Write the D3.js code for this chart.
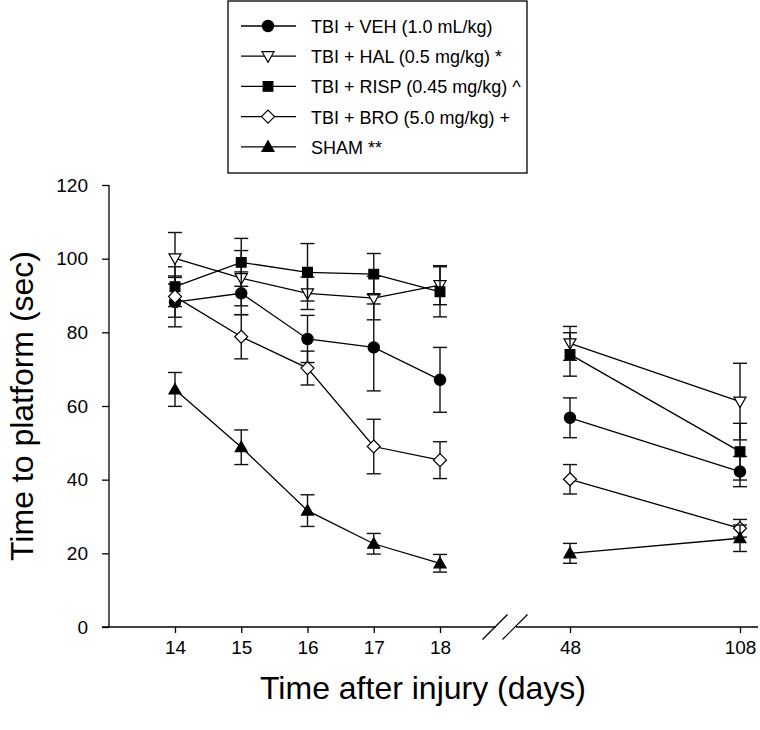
<!DOCTYPE html>
<html><head><meta charset="utf-8">
<script src="https://cdn.jsdelivr.net/npm/d3@7"></script>
<style>
html,body{margin:0;padding:0;background:#fff;}
svg{display:block;font-family:"Liberation Sans",Arial,Helvetica,sans-serif;}
</style></head>
<body>
<svg id="chart" width="760" height="730"></svg>
<script>
const days = [14, 15, 16, 17, 18, 48, 108];
const yTicks = [0, 20, 40, 60, 80, 100, 120];
const seriesNames = ["TBI + VEH (1.0 mL/kg)", "TBI + HAL (0.5 mg/kg) *", "TBI + RISP (0.45 mg/kg) ^", "TBI + BRO (5.0 mg/kg) +", "SHAM **"];
const vehVals  = [88.2, 90.6, 78.2, 75.9, 67.1, 56.8, 42.2];
const vehErr   = [6.7, 5.8, 6.4, 11.8, 8.8, 5.4, 4.1];
const halVals  = [100.1, 94.7, 90.6, 89.3, 92.8, 77.0, 61.2];
const halErr   = [7.0, 7.5, 4.4, 5.9, 5.3, 4.6, 10.4];
const rispVals = [92.4, 99.0, 96.3, 95.8, 91.0, 74.0, 47.6];
const rispErr  = [5.4, 6.5, 7.8, 5.6, 6.8, 5.9, 7.7];
const broVals  = [89.7, 78.8, 70.3, 49.0, 45.3, 40.1, 26.8];
const broErr   = [5.6, 6.0, 4.6, 7.4, 5.0, 4.0, 2.4];
const shamVals = [64.5, 48.8, 31.6, 22.6, 17.3, 20.0, 24.1];
const shamErr  = [4.6, 4.7, 4.3, 2.8, 2.4, 2.7, 3.6];
const segments = [[14, 15, 16, 17, 18], [48, 108]];
const markers = ["circle", "triangleDown", "square", "diamond", "triangleUp"];
const fills = ["#000", "#fff", "#000", "#fff", "#000"];

const allVals = [vehVals, halVals, rispVals, broVals, shamVals];
const allErr = [vehErr, halErr, rispErr, broErr, shamErr];

const svg = d3.select("#chart");
const x = d3.scaleLinear().domain([14, 18, 48, 108]).range([175, 440, 570, 740]);
const y = d3.scaleLinear().domain([0, 120]).range([627, 185]);
const xLeft = 109, xRight = 758;
const breakX = (x(18) + x(48)) / 2;
const FONT = "Liberation Sans, Arial, sans-serif";

// y axis
const yAxis = svg.append("g").attr("transform", `translate(${xLeft},0)`)
  .call(d3.axisLeft(y).tickValues(yTicks).tickSize(7).tickPadding(14));
yAxis.select(".domain").remove();
yAxis.append("line").attr("x1", 0).attr("x2", 0).attr("y1", y(0)).attr("y2", y(120)).attr("stroke", "#000").attr("stroke-width", 1.3);
yAxis.selectAll(".tick line").attr("stroke-width", 1.3);
yAxis.selectAll("text").attr("font-size", 19).attr("fill", "#000").attr("font-family", FONT);

// x axis
const xAxis = svg.append("g").attr("transform", `translate(0,${y(0)})`)
  .call(d3.axisBottom(x).tickValues(days).tickFormat(d3.format("d")).tickSize(6).tickPadding(8));
xAxis.select(".domain").remove();
xAxis.selectAll(".tick line").attr("stroke-width", 1.3);
xAxis.selectAll("text").attr("font-size", 19).attr("fill", "#000").attr("font-family", FONT);
xAxis.append("line").attr("x1", xLeft - 7).attr("x2", breakX - 9).attr("y1", 0).attr("y2", 0).attr("stroke", "#000").attr("stroke-width", 1.3);
xAxis.append("line").attr("x1", breakX + 11).attr("x2", xRight).attr("y1", 0).attr("y2", 0).attr("stroke", "#000").attr("stroke-width", 1.3);
[-10, 10].forEach(off => {
  xAxis.append("line")
    .attr("x1", breakX + off - 12.5).attr("y1", 12.5)
    .attr("x2", breakX + off + 12.5).attr("y2", -12.5)
    .attr("stroke", "#000").attr("stroke-width", 1.2);
});

// axis titles
svg.append("text").attr("x", 423).attr("y", 699).attr("text-anchor", "middle")
  .attr("font-size", 32).text("Time after injury (days)");
svg.append("text").attr("transform", `translate(33,${(y(0) + y(120)) / 2}) rotate(-90)`)
  .attr("text-anchor", "middle").attr("font-size", 32).text("Time to platform (sec)");

function markerPath(type) {
  if (type === "triangleDown") return "M-6,-4.5L6,-4.5L0,6Z";
  if (type === "diamond") return "M0,-6.5L6.5,0L0,6.5L-6.5,0Z";
  if (type === "triangleUp") return "M0,-6L6,4.5L-6,4.5Z";
  if (type === "square") return d3.symbol(d3.symbolSquare, 95)();
  return d3.symbol(d3.symbolCircle, 100)();
}

const plot = svg.append("g");
allVals.forEach((vals, si) => {
  const errs = allErr[si];
  const pts = days.map((d, i) => ({ d, v: vals[i], e: errs[i] }));
  const g = plot.append("g");
  pts.forEach(p => {
    g.append("line").attr("x1", x(p.d)).attr("x2", x(p.d)).attr("y1", y(p.v - p.e)).attr("y2", y(p.v + p.e))
      .attr("stroke", "#111").attr("stroke-width", 1.4);
    [p.v - p.e, p.v + p.e].forEach(v => {
      g.append("line").attr("x1", x(p.d) - 7).attr("x2", x(p.d) + 7).attr("y1", y(v)).attr("y2", y(v))
        .attr("stroke", "#111").attr("stroke-width", 1.4);
    });
  });
  const line = d3.line().x(p => x(p.d)).y(p => y(p.v));
  segments.forEach(seg => {
    g.append("path").datum(pts.filter(p => seg.includes(p.d))).attr("d", line)
      .attr("fill", "none").attr("stroke", "#000").attr("stroke-width", 1.3);
  });
  g.selectAll(".m").data(pts).enter().append("path")
    .attr("transform", p => `translate(${x(p.d)},${y(p.v)})`)
    .attr("d", markerPath(markers[si]))
    .attr("fill", fills[si]).attr("stroke", "#000").attr("stroke-width", 1.2);
});

// legend
const lg = svg.append("g");
const legX = 228, legY = 1, legW = 299, legH = 172;
lg.append("rect").attr("x", legX).attr("y", legY).attr("width", legW).attr("height", legH)
  .attr("fill", "#fff").attr("stroke", "#000").attr("stroke-width", 1.3);
seriesNames.forEach((name, i) => {
  const ry = 26 + i * 30.2;
  lg.append("line").attr("x1", 241).attr("x2", 296).attr("y1", ry).attr("y2", ry).attr("stroke", "#000").attr("stroke-width", 1.3);
  lg.append("path").attr("transform", `translate(268,${ry})`).attr("d", markerPath(markers[i]))
    .attr("fill", fills[i]).attr("stroke", "#000").attr("stroke-width", 1.2);
  lg.append("text").attr("x", 311).attr("y", ry + 7).attr("font-size", 18).text(name);
});
</script>
</body></html>
